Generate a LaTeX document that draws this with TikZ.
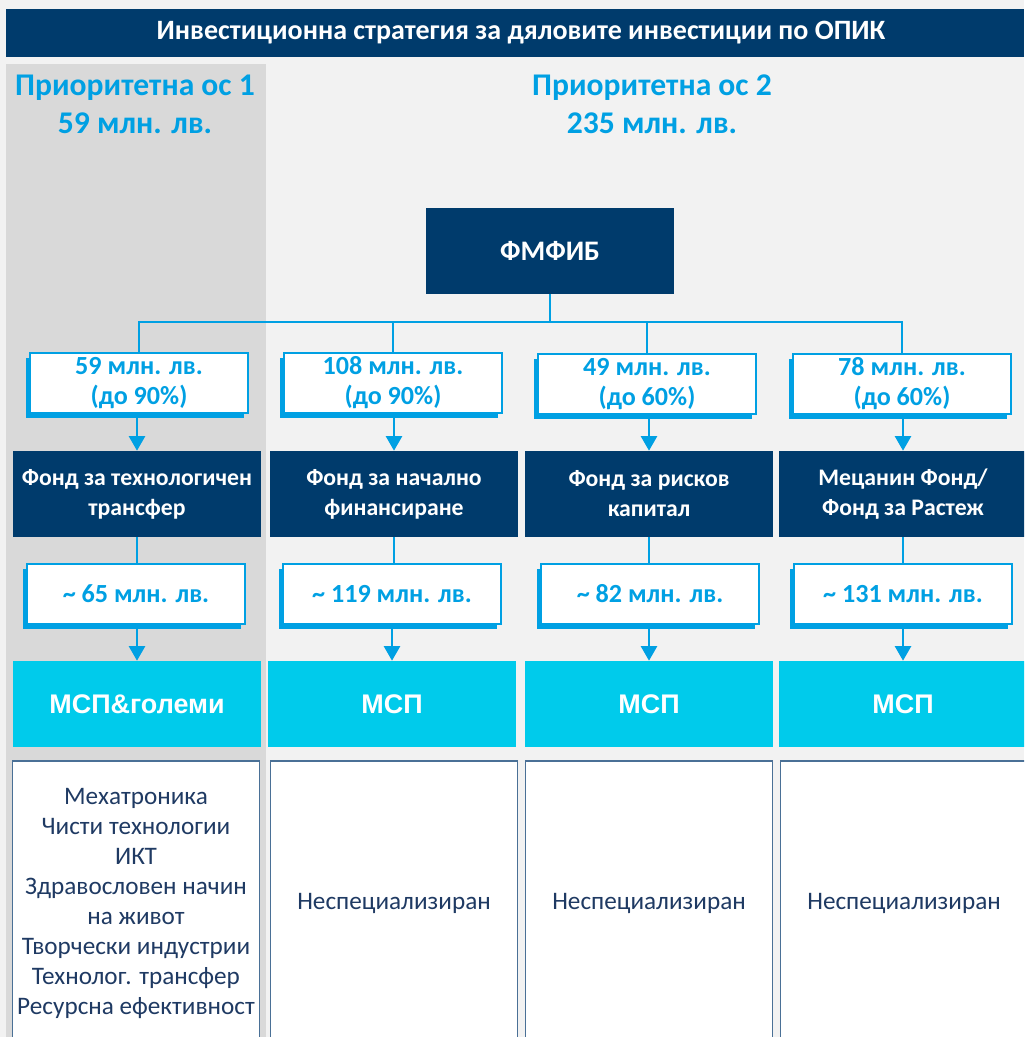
\documentclass[tikz,border=0pt]{standalone}
\usepackage{fontspec}
\setmainfont{Carlito}
\newfontfamily\arialfont{Liberation Sans}
\usetikzlibrary{arrows.meta,shadows}
\definecolor{navy}{HTML}{003B6C}
\definecolor{sky}{HTML}{00A0E3}
\definecolor{cyanbox}{HTML}{00CBEB}
\definecolor{pagegrey}{HTML}{F2F2F2}
\definecolor{colgrey}{HTML}{D9D9D9}
\definecolor{slate}{HTML}{4A7096}
\definecolor{inktext}{HTML}{1F3A63}
\tikzset{
  headbar/.style={fill=navy, text=white, font=\bfseries\fontsize{21}{24}\selectfont, minimum width=763.5pt, minimum height=36pt, inner sep=0pt},
  axis/.style={text=sky, font=\bfseries\fontsize{23.7}{28.5}\selectfont, align=center, inner sep=0pt},
  fund/.style={fill=navy, text=white, font=\bfseries\fontsize{17.8}{22.5}\selectfont, minimum width=186pt, minimum height=64.5pt, inner sep=0pt, align=center},
  amount/.style={draw=sky, line width=1.5pt, fill=white, text=sky, font=\bfseries\fontsize{19.6}{22.5}\selectfont, minimum width=164pt, minimum height=45pt, inner sep=0pt, align=center, general shadow={fill=sky, shadow xshift=-3pt, shadow yshift=-3.75pt}},
  target/.style={fill=cyanbox, text=white, font=\arialfont\bfseries\fontsize{20.2}{24}\selectfont, minimum width=186pt, minimum height=64.5pt, inner sep=0pt},
  sector/.style={draw=slate, line width=1.1pt, fill=white, text=inktext, font=\fontsize{18.9}{22.5}\selectfont, minimum width=185pt, minimum height=213pt, inner sep=0pt, align=center},
  conn/.style={draw=sky, line width=2pt},
  feed/.style={conn, -{Triangle[width=12pt,length=11pt]}},
}
\begin{document}
\begin{tikzpicture}[x=0.75pt, y=-0.75pt]
  \useasboundingbox (0,0) rectangle (1024,1037);
  \clip (0,0) rectangle (1024,1037);
  \fill[pagegrey] (0,0) rectangle (1024,1037);
  \fill[colgrey] (6,64) rectangle (266,1037);
  \node[headbar] (head) at (515,33) {\hspace*{9pt}Инвестиционна стратегия за дяловите инвестиции по ОПИК};
  \path
    (135,104) node[axis] (ax1) {Приоритетна ос 1\\59 млн. лв.}
    (652,104) node[axis] (ax2) {Приоритетна ос 2\\235 млн. лв.};
  \node[fund, font=\bfseries\fontsize{21.2}{24}\selectfont] (fm) at (550,251) {ФМФИБ};
  \coordinate (split) at (550,322);
  \path
    (139,383) node[amount] (a1) {59 млн. лв.\\(до 90\%)}
    (393,383) node[amount] (a2) {108 млн. лв.\\(до 90\%)}
    (647,384) node[amount] (a3) {49 млн. лв.\\(до 60\%)}
    (902,384) node[amount] (a4) {78 млн. лв.\\(до 60\%)};
  \path
    (137,494) node[fund] (f1) {Фонд за технологичен\\трансфер}
    (394,494) node[fund] (f2) {Фонд за начално\\финансиране}
    (649,494) node[fund] (f3) {Фонд за рисков\\капитал}
    (903,494) node[fund] (f4) {Мецанин Фонд/\\Фонд за Растеж};
  \path
    (136,594) node[amount] (s1) {\textasciitilde\ 65 млн. лв.}
    (392,594) node[amount] (s2) {\textasciitilde\ 119 млн. лв.}
    (650,594) node[amount] (s3) {\textasciitilde\ 82 млн. лв.}
    (903,594) node[amount] (s4) {\textasciitilde\ 131 млн. лв.};
  \path
    (137,704) node[target] (m1) {МСП\&големи}
    (392,704) node[target] (m2) {МСП}
    (649,704) node[target] (m3) {МСП}
    (903,704) node[target] (m4) {МСП};
  \path
    (136,903) node[sector] (b1) {Мехатроника\\Чисти технологии\\ИКТ\\Здравословен начин\\на живот\\Творчески индустрии\\Технолог. трансфер\\Ресурсна ефективност}
    (394,903) node[sector] (b2) {Неспециализиран}
    (649,903) node[sector] (b3) {Неспециализиран}
    (904,903) node[sector] (b4) {Неспециализиран};
  \begin{scope}[conn]
    \draw (fm.south) -- (split);
    \draw (split) -| (a1.north);
    \draw (split) -| (a2.north);
    \draw (split) -| (a3.north);
    \draw (split) -| (a4.north);
    \draw (f1.south) -- (f1.south |- s1.north);
    \draw (f2.south) -- (f2.south |- s2.north);
    \draw (f3.south) -- (f3.south |- s3.north);
    \draw (f4.south) -- (f4.south |- s4.north);
  \end{scope}
  \begin{scope}[feed]
    \draw (a1.south -| f1.north) -- (f1.north);
    \draw (a2.south -| f2.north) -- (f2.north);
    \draw (a3.south -| f3.north) -- (f3.north);
    \draw (a4.south -| f4.north) -- (f4.north);
    \draw (s1.south -| m1.north) -- (m1.north);
    \draw (s2.south -| m2.north) -- (m2.north);
    \draw (s3.south -| m3.north) -- (m3.north);
    \draw (s4.south -| m4.north) -- (m4.north);
  \end{scope}
\end{tikzpicture}
\end{document}
